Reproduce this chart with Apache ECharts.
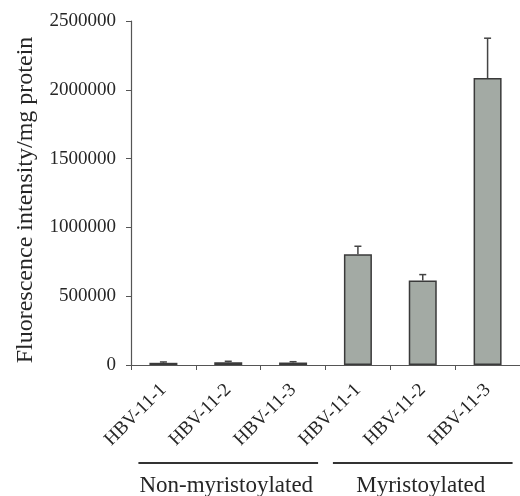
<!DOCTYPE html>
<html><head><meta charset="utf-8">
<script src="https://cdn.jsdelivr.net/npm/echarts@6/dist/echarts.min.js"></script>
<style>html,body{margin:0;padding:0;background:#fff}#c{width:520px;height:496px}</style>
</head><body><div id="c"></div>
<script>
const categories = ['HBV-11-1','HBV-11-2','HBV-11-3','HBV-11-1','HBV-11-2','HBV-11-3'];
const values = [16000, 20000, 18000, 805000, 615000, 2085000];
const errors = [6000, 7000, 6000, 58000, 42000, 290000];
const groups = ['Non-myristoylated', 'Myristoylated'];
const groupSpans = [[0, 2], [3, 5]];
const yTicks = [0, 500000, 1000000, 1500000, 2000000, 2500000];

const FONT = '"Liberation Serif", "DejaVu Serif", serif';
const TXT = '#262626';
const chart = echarts.init(document.getElementById('c'));
chart.setOption({
  animation: false,
  backgroundColor: '#fff',
  grid: { left: 131, top: 21, right: -9, bottom: 131, containLabel: false },
  xAxis: {
    type: 'category', data: categories,
    axisLine: { lineStyle: { color: '#555', width: 1.2 } },
    axisTick: { show: true, length: 5, lineStyle: { color: '#555' } },
    axisLabel: { rotate: 45, margin: 22, fontFamily: FONT, fontSize: 19, color: TXT, interval: 0 }
  },
  yAxis: {
    type: 'value', min: yTicks[0], max: yTicks[yTicks.length - 1], interval: 500000,
    name: 'Fluorescence intensity/mg protein', nameLocation: 'middle', nameGap: 93,
    nameTextStyle: { fontFamily: FONT, fontSize: 24, color: TXT, padding: [0, 14, 0, 0] },
    axisLine: { show: true, lineStyle: { color: '#555', width: 1.2 } },
    axisTick: { show: true, length: 5, lineStyle: { color: '#555' } },
    splitLine: { show: false },
    axisLabel: { fontFamily: FONT, fontSize: 19, color: TXT, margin: 15,
                 formatter: v => String(v) }
  },
  series: [
    {
      type: 'bar', data: values, barWidth: 28,
      itemStyle: { color: '#a3aaa4', borderColor: '#3a3a3a', borderWidth: 1.5 }
    },
    {
      type: 'custom',
      data: values.map((v, i) => [i, v, v + errors[i]]),
      renderItem: function (params, api) {
        const lo = api.coord([api.value(0), api.value(1)]);
        const hi = api.coord([api.value(0), api.value(2)]);
        const st = { stroke: '#444', lineWidth: 1.5 };
        return { type: 'group', children: [
          { type: 'line', shape: { x1: lo[0], y1: lo[1], x2: hi[0], y2: hi[1] }, style: st },
          { type: 'line', shape: { x1: hi[0] - 3.5, y1: hi[1], x2: hi[0] + 3.5, y2: hi[1] }, style: st }
        ]};
      },
      z: 3
    }
  ]
});

// group brackets under the axis, positioned from the category scale
const g = [];
groupSpans.forEach((sp, k) => {
  const a = chart.convertToPixel({ xAxisIndex: 0 }, sp[0]);
  const b = chart.convertToPixel({ xAxisIndex: 0 }, sp[1]);
  const cx = (a + b) / 2;
  const half = (b - a) / 2 + 25;
  g.push({ type: 'line', shape: { x1: cx - half, y1: 463, x2: cx + half, y2: 463 },
           style: { stroke: '#333', lineWidth: 2 } });
  g.push({ type: 'text', x: cx - 2, y: 486, style: { text: groups[k], font: '23px ' + FONT,
           fill: TXT, align: 'center', verticalAlign: 'middle' } });
});
chart.setOption({ graphic: g });
</script></body></html>
